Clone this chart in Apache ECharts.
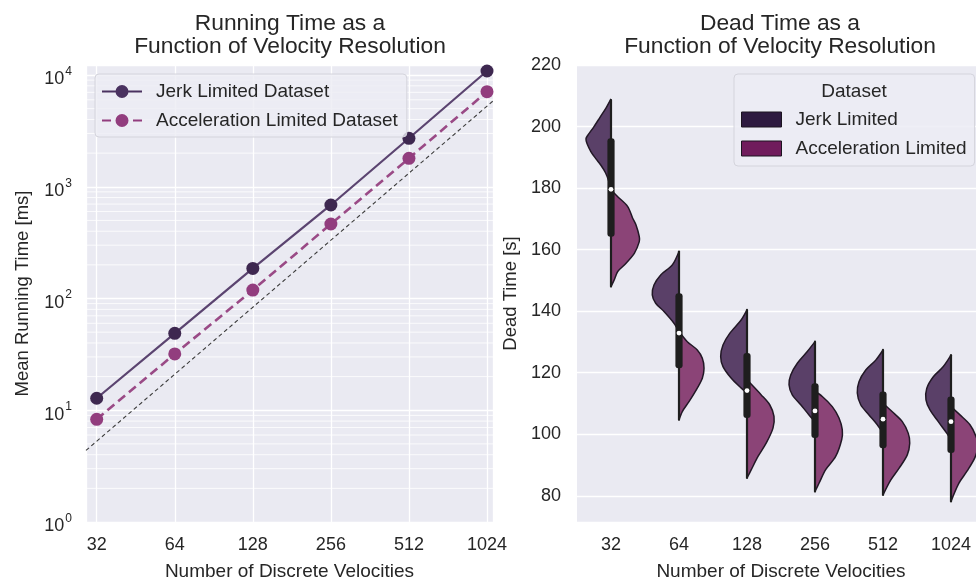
<!DOCTYPE html>
<html><head><meta charset="utf-8">
<script src="https://cdn.jsdelivr.net/npm/echarts@6/dist/echarts.min.js"></script>
<style>html,body{margin:0;padding:0;background:#fff}#c{width:976px;height:583px}</style>
</head><body><div id="c"></div>
<script>
// ---------- Left panel data ----------
const velocities = [32, 64, 128, 256, 512, 1024];
const jerkRunTime = [12.8, 48.8, 186, 687, 2715, 10860];
const accelRunTime = [8.3, 31.9, 119, 464, 1797, 7090];
const refLineX = [29.1, 1080];
const refLineY = [4.37, 5850];
const runTimeDecades = [1, 10, 100, 1000, 10000];

// ---------- Right panel data ----------
const categories = ['32', '64', '128', '256', '512', '1024'];
// violin half profiles: [dead time, half width as fraction of category band]
const jerkProfiles = [
  [[209,0],[206,0.074],[203,0.162],[200,0.25],[197,0.346],[196,0.368],[194.5,0.353],[191.8,0.294],[189.5,0.221],[187.5,0.151],[185,0.081],[182,0.029],[179,0]],
  [[159.4,0],[155,0.099],[151.8,0.269],[148.5,0.368],[145.3,0.393],[142.6,0.343],[139.9,0.221],[136.1,0.074],[133.4,0]],
  [[140.4,0],[137.2,0.084],[132.8,0.254],[129,0.353],[125.3,0.387],[122,0.353],[118.2,0.231],[115,0.084],[113.4,0]],
  [[130.1,0],[126.9,0.113],[123.1,0.26],[119.3,0.357],[116.1,0.382],[112.8,0.334],[109.6,0.21],[106.3,0.088],[104.2,0]],
  [[127.4,0],[124.1,0.107],[120.9,0.254],[117.1,0.353],[113.4,0.378],[109.6,0.328],[106.3,0.206],[103.1,0.084],[100.4,0]],
  [[125.7,0],[122,0.113],[118.7,0.26],[114.9,0.357],[111.2,0.368],[107.9,0.309],[104.1,0.187],[100.4,0.063],[98.2,0]]
];
const accelProfiles = [
  [[179.4,0],[177.2,0.099],[174,0.246],[170.2,0.319],[168,0.368],[164.2,0.416],[162.6,0.416],[158.8,0.343],[155,0.196],[152.9,0.099],[150,0.044],[148,0]],
  [[133.4,0],[130.1,0.122],[127.4,0.269],[124.7,0.343],[121.5,0.368],[118.2,0.343],[115,0.269],[110.6,0.147],[107.4,0.049],[104.7,0]],
  [[117.7,0],[112.8,0.21],[109.6,0.334],[105.8,0.397],[102,0.382],[97.2,0.284],[92.8,0.162],[88.5,0.063],[85.8,0]],
  [[113.9,0],[112.3,0.107],[109,0.254],[105.3,0.353],[101.5,0.401],[98.3,0.393],[92.8,0.304],[88.5,0.157],[84.1,0.059],[81.4,0]],
  [[110.1,0],[107.3,0.137],[104.1,0.284],[100.3,0.372],[97.1,0.393],[93.3,0.357],[88.9,0.235],[85.1,0.113],[80.3,0]],
  [[109,0],[106.3,0.132],[103.1,0.279],[99.3,0.368],[96.5,0.397],[92.5,0.353],[88,0.235],[84,0.113],[78.2,0]]
];
const whiskerLow  = [148, 104.7, 85.8, 81.4, 80.3, 78.2];
const boxQ1       = [164.2, 121.5, 105.3, 98.8, 95.5, 93.9];
const medians     = [179.6, 132.9, 114.2, 107.6, 104.9, 104.1];
const boxQ3       = [196.2, 145.8, 126.4, 116.6, 113.9, 112.3];
const whiskerHigh = [208.6, 159.4, 140.4, 130.1, 127.4, 125.7];

// ---------- styling ----------
const TXT = '#262626';
const FONT = '"Liberation Sans", Arial, sans-serif';
const BG = '#eaeaf2';

const minorGrid = [];
for (let k = 0; k < runTimeDecades.length - 1; k++) {
  for (let m = 2; m <= 9; m++) minorGrid.push(runTimeDecades[k] * m);
}

function violinRender(profiles, side, fill) {
  return function (params, api) {
    const i = api.value(0);
    const band = api.size([1, 0])[0];
    const pts = profiles[i].map(function (p) {
      const c = api.coord([i, p[0]]);
      return [c[0] + side * p[1] * band, c[1]];
    });
    return {
      type: 'polyline',
      shape: { points: pts, smooth: 0.3 },
      style: { fill: fill, stroke: '#221826', lineWidth: 1.5 }
    };
  };
}

const legendRich = { g: { width: 9 }, t: { fontFamily: FONT, fontSize: 19, color: TXT } };
const ICON_SOLID = 'path://M0,6.1H40V7.9H0Z M26.5,7A6.5,6.5,0,1,1,13.5,7A6.5,6.5,0,1,1,26.5,7Z';
const ICON_DASH = 'path://M0,6H9V8H0Z M31,6H40V8H31Z M26.5,7A6.5,6.5,0,1,1,13.5,7A6.5,6.5,0,1,1,26.5,7Z';

const chart = echarts.init(document.getElementById('c'), null, { renderer: 'canvas' });
chart.setOption({
  animation: false,
  backgroundColor: '#ffffff',
  textStyle: { fontFamily: FONT, color: TXT },
  title: [
    { text: 'Running Time as a\nFunction of Velocity Resolution', left: 285, top: 7, textAlign: 'center',
      textStyle: { fontFamily: FONT, fontSize: 22.8, fontWeight: 'normal', color: TXT, lineHeight: 23 } },
    { text: 'Dead Time as a\nFunction of Velocity Resolution', left: 775, top: 7, textAlign: 'center',
      textStyle: { fontFamily: FONT, fontSize: 22.8, fontWeight: 'normal', color: TXT, lineHeight: 23 } },
    { text: 'Dataset', left: 849, top: 77, textAlign: 'center', z: 10,
      textStyle: { fontFamily: FONT, fontSize: 19, fontWeight: 'normal', color: TXT } }
  ],
  grid: [
    { left: 86, top: 65, width: 407, height: 457, show: true, backgroundColor: BG, borderWidth: 0, outerBoundsMode: 'none', containLabel: false },
    { left: 577, top: 65, width: 408, height: 457, show: true, backgroundColor: BG, borderWidth: 0, outerBoundsMode: 'none', containLabel: false }
  ],
  legend: [
    { data: [
        { name: 'Jerk Limited Dataset', icon: ICON_SOLID, itemStyle: { color: '#4a3260' } },
        { name: 'Acceleration Limited Dataset', icon: ICON_DASH, itemStyle: { color: '#923d7e' } }],
      orient: 'vertical', left: 95, top: 74, itemWidth: 40, itemHeight: 14, itemGap: 10,
      padding: [8, 9, 7, 7], backgroundColor: 'rgba(236,236,244,0.8)', borderColor: '#d4d4dc', borderWidth: 1, borderRadius: 4,
      formatter: function (n) { return '{g|}{t|' + n + '}'; },
      textStyle: { fontFamily: FONT, fontSize: 19, color: TXT, rich: legendRich } },
    { data: [
        { name: 'Jerk Limited', itemStyle: { color: '#2e1a40', borderColor: '#1c1420', borderWidth: 1 } },
        { name: 'Acceleration Limited', itemStyle: { color: '#701c5c', borderColor: '#1c1420', borderWidth: 1 } }],
      orient: 'vertical', icon: 'rect', left: 734, top: 74, itemWidth: 40, itemHeight: 15, itemGap: 10,
      padding: [36, 8, 8, 7], backgroundColor: 'rgba(236,236,244,0.85)', borderColor: '#d4d4dc', borderWidth: 1, borderRadius: 4,
      formatter: function (n) { return '{g|}{t|' + n + '}'; },
      textStyle: { fontFamily: FONT, fontSize: 19, color: TXT, rich: legendRich } }
  ],
  xAxis: [
    { type: 'log', logBase: 2, gridIndex: 0, min: refLineX[0], max: refLineX[1],
      name: 'Number of Discrete Velocities', nameLocation: 'middle', nameGap: 40,
      nameTextStyle: { fontFamily: FONT, fontSize: 19, color: TXT },
      axisLine: { show: false }, axisTick: { show: false },
      axisLabel: { margin: 14, fontFamily: FONT, fontSize: 18, color: TXT,
        formatter: function (v) { const l = Math.log2(v); return Math.abs(l - Math.round(l)) < 1e-6 ? String(Math.round(v)) : ''; } },
      splitLine: { show: true, lineStyle: { color: '#ffffff', width: 1.3 } } },
    { type: 'category', gridIndex: 1, data: categories,
      name: 'Number of Discrete Velocities', nameLocation: 'middle', nameGap: 40,
      nameTextStyle: { fontFamily: FONT, fontSize: 19, color: TXT },
      axisLine: { show: false }, axisTick: { show: false },
      axisLabel: { margin: 14, fontFamily: FONT, fontSize: 18, color: TXT },
      splitLine: { show: false } }
  ],
  yAxis: [
    { type: 'log', logBase: 10, gridIndex: 0, min: runTimeDecades[0], max: 12290,
      name: 'Mean Running Time [ms]', nameLocation: 'middle', nameGap: 54,
      nameTextStyle: { fontFamily: FONT, fontSize: 18.5, color: TXT },
      axisLine: { show: false }, axisTick: { show: false },
      axisLabel: { margin: 14,
        formatter: function (v) { const l = Math.log10(v); const e = Math.round(l); return Math.abs(l - e) < 1e-6 ? '{b|10}{s|' + e + '}' : ''; },
        rich: { b: { fontFamily: FONT, fontSize: 18, color: TXT, verticalAlign: 'bottom', padding: [9, 0, 0, 0] },
                s: { fontFamily: FONT, fontSize: 12, color: TXT, verticalAlign: 'top', padding: [4, 0, 0, 1] } } },
      splitLine: { show: true, lineStyle: { color: '#ffffff', width: 1.3 } } },
    { type: 'value', gridIndex: 1, min: 71.5, max: 220, splitNumber: 7,
      name: 'Dead Time [s]', nameLocation: 'middle', nameGap: 57,
      nameTextStyle: { fontFamily: FONT, fontSize: 18.5, color: TXT },
      axisLine: { show: false }, axisTick: { show: false },
      axisLabel: { margin: 16, fontFamily: FONT, fontSize: 18, color: TXT,
        formatter: function (v) { return Math.abs(v / 20 - Math.round(v / 20)) < 1e-6 ? String(v) : ''; } },
      splitLine: { show: true, lineStyle: { color: '#ffffff', width: 1.3 } } }
  ],
  series: [
    { name: 'minor-grid', type: 'custom', xAxisIndex: 0, yAxisIndex: 0, z: 1, silent: true,
      data: minorGrid.map(function (v) { return [refLineX[0], v]; }),
      encode: { x: 0, y: 1 },
      renderItem: function (params, api) {
        const cs = params.coordSys;
        const y = api.coord([api.value(0), api.value(1)])[1];
        return { type: 'line', shape: { x1: cs.x, y1: y, x2: cs.x + cs.width, y2: y },
                 style: { stroke: '#ffffff', lineWidth: 0.8 } };
      } },
    { name: 'reference', type: 'line', xAxisIndex: 0, yAxisIndex: 0, symbol: 'none', z: 2, silent: true,
      data: refLineX.map(function (x, i) { return [x, refLineY[i]]; }),
      lineStyle: { color: '#3c3c3c', width: 1.1, type: [4, 3] } },
    { name: 'Jerk Limited Dataset', type: 'line', xAxisIndex: 0, yAxisIndex: 0,
      data: velocities.map(function (x, i) { return [x, jerkRunTime[i]]; }),
      symbol: 'circle', symbolSize: 13, z: 3,
      lineStyle: { color: '#5b4470', width: 2.2 },
      itemStyle: { color: '#3e2850' } },
    { name: 'Acceleration Limited Dataset', type: 'line', xAxisIndex: 0, yAxisIndex: 0,
      data: velocities.map(function (x, i) { return [x, accelRunTime[i]]; }),
      symbol: 'circle', symbolSize: 13, z: 3,
      lineStyle: { color: '#9a4a86', width: 2.6, type: [9, 5] },
      itemStyle: { color: '#923d7e' } },
    { name: 'Jerk Limited', type: 'custom', xAxisIndex: 1, yAxisIndex: 1, z: 3,
      itemStyle: { color: '#2e1a40' },
      data: categories.map(function (c, i) { return [i, whiskerHigh[i]]; }),
      encode: { x: 0, y: 1 },
      renderItem: violinRender(jerkProfiles, -1, '#5a4068') },
    { name: 'Acceleration Limited', type: 'custom', xAxisIndex: 1, yAxisIndex: 1, z: 3,
      itemStyle: { color: '#701c5c' },
      data: categories.map(function (c, i) { return [i, whiskerLow[i]]; }),
      encode: { x: 0, y: 1 },
      renderItem: violinRender(accelProfiles, 1, '#8b4477') },
    { name: 'box', type: 'custom', xAxisIndex: 1, yAxisIndex: 1, z: 4,
      data: categories.map(function (c, i) { return [i, whiskerLow[i], boxQ1[i], medians[i], boxQ3[i], whiskerHigh[i]]; }),
      encode: { x: 0, y: [1, 2, 3, 4, 5] },
      renderItem: function (params, api) {
        const i = api.value(0);
        const lo = api.coord([i, api.value(1)]), q1 = api.coord([i, api.value(2)]),
              md = api.coord([i, api.value(3)]), q3 = api.coord([i, api.value(4)]),
              hi = api.coord([i, api.value(5)]);
        const x = lo[0];
        return { type: 'group', children: [
          { type: 'line', shape: { x1: x, y1: hi[1], x2: x, y2: lo[1] }, style: { stroke: '#1e1e1e', lineWidth: 2.2, lineCap: 'round' } },
          { type: 'rect', shape: { x: x - 3.6, y: q3[1], width: 7.2, height: q1[1] - q3[1], r: 3 }, style: { fill: '#1e1e1e' } },
          { type: 'circle', shape: { cx: x, cy: md[1], r: 2.4 }, style: { fill: '#ffffff' } }
        ] };
      } }
  ]
});
</script></body></html>
